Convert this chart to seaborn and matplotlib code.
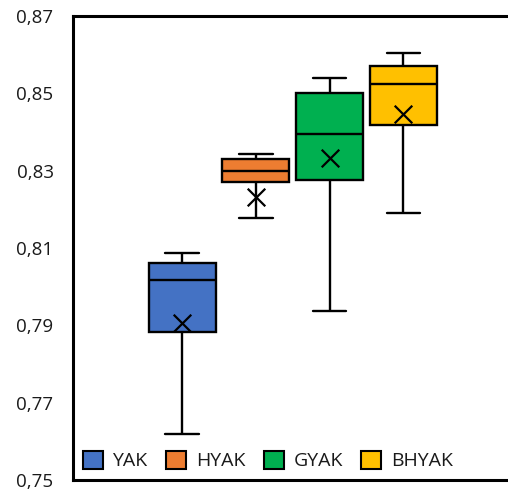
import matplotlib
matplotlib.use("Agg")
import matplotlib.pyplot as plt
from matplotlib.patches import Patch
from matplotlib.ticker import FuncFormatter
import seaborn as sns
import pandas as pd

# Groups and their summary statistics
groups = ["YAK", "HYAK", "GYAK", "BHYAK"]
whisker_low = [0.7618, 0.8177, 0.7937, 0.8190]
q1 = [0.7884, 0.8270, 0.8275, 0.8418]
median = [0.8017, 0.8300, 0.8395, 0.8523]
q3 = [0.8060, 0.8331, 0.8500, 0.8571]
whisker_high = [0.8088, 0.8344, 0.8540, 0.8605]
mean = [0.7907, 0.8231, 0.8334, 0.8446]
colors = ["#4472C4", "#ED7D31", "#00B050", "#FFC000"]
y_ticks = [0.75, 0.77, 0.79, 0.81, 0.83, 0.85, 0.87]

# Five-number summary per group in long form (min, Q1, median, Q3, max)
rows = []
for g, lo, a, m, b, hi in zip(groups, whisker_low, q1, median, q3, whisker_high):
    for v in (lo, a, m, b, hi):
        rows.append({"group": g, "value": v})
df = pd.DataFrame(rows)
means = pd.DataFrame({"group": groups, "mean": mean})

sns.set_style("white")
plt.rcParams["font.family"] = ["Open Sans", "DejaVu Sans"]

fig = plt.figure(figsize=(5.08, 4.93), dpi=100)
ax = fig.add_axes([73 / 508, 13 / 493, 435 / 508, 464 / 493])

line_kw = dict(color="black", linewidth=1.7)
sns.boxplot(
    data=df, x="group", y="value", hue="group", order=groups, hue_order=groups,
    palette=colors, saturation=1, whis=(0, 100), width=0.91, dodge=False,
    legend=False, linecolor="black", linewidth=1.7, ax=ax,
    boxprops=dict(edgecolor="black", linewidth=1.7),
    medianprops=line_kw, whiskerprops=line_kw,
    capprops=dict(color="black", linewidth=1.7), showfliers=False,
)

# Mean markers
sns.scatterplot(
    data=means, x="group", y="mean", marker="x", s=160, color="black",
    linewidth=1.6, zorder=5, ax=ax, legend=False,
)

ax.set_xlim(-1.48, 4.42)
ax.set_ylim(0.75, 0.87)
ax.set_yticks(y_ticks)
ax.yaxis.set_major_formatter(FuncFormatter(lambda v, p: f"{v:.2f}".replace(".", ",")))
ax.set_xticks([])
ax.set_xlabel("")
ax.set_ylabel("")
ax.tick_params(axis="y", labelsize=13.5, length=0, pad=14, colors="#1a1a1a")

for side in ("left", "top", "bottom"):
    ax.spines[side].set_visible(True)
    ax.spines[side].set_color("black")
    ax.spines[side].set_linewidth(2.2)
ax.spines["right"].set_visible(False)

handles = [Patch(facecolor=c, edgecolor="black", linewidth=1.5, label=g)
           for g, c in zip(groups, colors)]
leg = ax.legend(
    handles=handles, loc="lower left", bbox_to_anchor=(0.0, 0.0), ncol=4,
    frameon=False, fontsize=14, handlelength=1.03, handleheight=1.03,
    handletextpad=0.5, columnspacing=0.95, borderaxespad=0.3,
    borderpad=0.2,
)
for t in leg.get_texts():
    t.set_color("#1a1a1a")

fig.savefig("out.png", dpi=100)
